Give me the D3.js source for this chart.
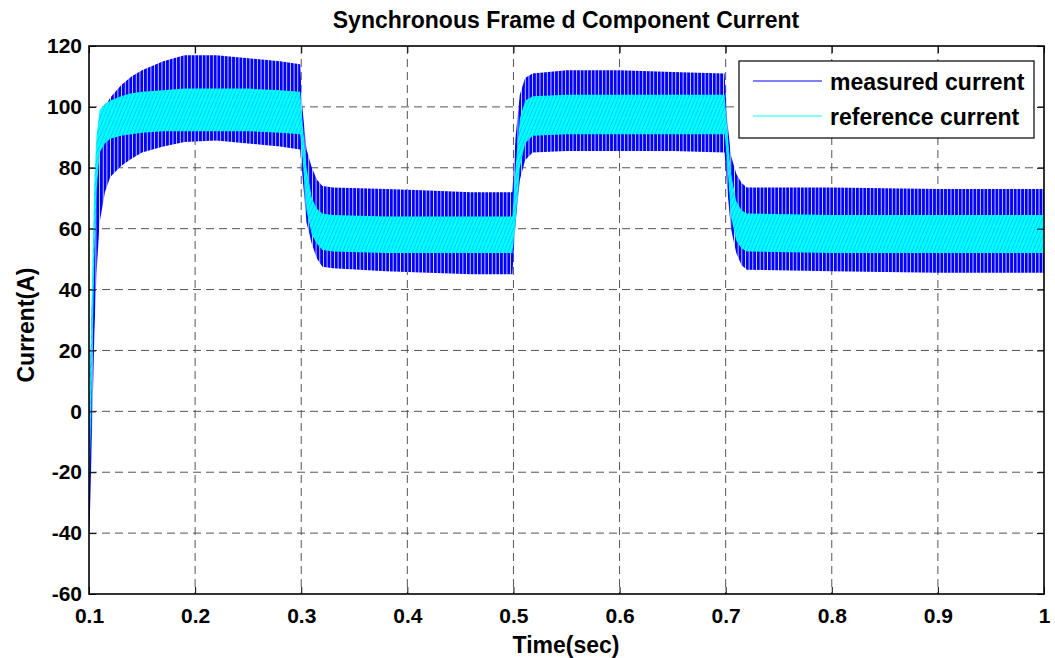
<html>
<head>
<meta charset="utf-8">
<script src="https://d3js.org/d3.v7.min.js"></script>
<style>
body { margin: 0; background: #fff; }
text { font-family: "Liberation Sans", Arial, sans-serif; font-weight: bold; fill: #000; }
</style>
</head>
<body>
<svg id="chart" width="1055" height="658"></svg>
<script>
// envelope of the two traces (time in sec, current in A)
var time = [0.100, 0.101, 0.103, 0.105, 0.107, 0.110, 0.115, 0.120, 0.130, 0.140, 0.150, 0.170, 0.190, 0.220, 0.250, 0.280, 0.299,
            0.301, 0.305, 0.310, 0.315, 0.320, 0.330, 0.380, 0.420, 0.460, 0.499,
            0.502, 0.506, 0.511, 0.518, 0.550, 0.600, 0.650, 0.699,
            0.701, 0.705, 0.710, 0.715, 0.720, 0.800, 0.900, 1.000];
var measuredHi = [-20, 10, 40, 62, 78, 92, 100, 103, 107, 110, 112, 115, 117, 117, 116, 115, 114,
                  100, 86, 80, 76, 74, 73.5, 73, 72.5, 72, 72,
                  90, 104, 109.5, 111, 112, 112, 111.5, 111,
                  97, 84, 78, 75, 73.5, 73.5, 73, 73];
var measuredLo = [-42, -32, -5, 25, 45, 62, 72, 77, 80.5, 83, 85, 87, 88.5, 89, 88, 87, 86,
                  78, 62, 55, 50, 47.5, 47, 46, 45.5, 45, 45,
                  62, 76, 82.5, 85, 85.5, 85.5, 85.5, 85,
                  75, 60, 52, 48, 46.5, 46, 45.5, 45.5];
var referenceHi = [-10, 10, 45, 75, 90, 99, 101, 102, 103.5, 104.5, 105, 105.5, 106, 106, 106, 105.5, 105,
                   96, 80, 70, 66.5, 65, 64.5, 64, 64, 64, 64,
                   80, 96, 102, 103.5, 104, 104, 104, 104,
                   95, 78, 69, 66, 65, 64.5, 64.5, 64.5];
var referenceLo = [-27, -15, 15, 50, 72, 85, 88, 89.5, 90.5, 91, 91.5, 92, 92, 92, 92, 91.5, 91,
                   84, 66, 58, 55, 53, 52.5, 52, 52, 52, 52,
                   62, 80, 88, 90.5, 91, 91, 91, 91,
                   84, 64, 56, 53.5, 52.5, 52, 52, 52];

var xTicks = [0.1, 0.2, 0.3, 0.4, 0.5, 0.6, 0.7, 0.8, 0.9, 1];
var yTicks = [-60, -40, -20, 0, 20, 40, 60, 80, 100, 120];
var legendNames = ["measured current", "reference current"];

var margin = {top: 46, right: 11, bottom: 64, left: 89},
    width = 1055 - margin.left - margin.right,
    height = 658 - margin.top - margin.bottom;

var svg = d3.select("#chart");
var defs = svg.append("defs");

// dense ripple look: blue spikes with thin white gaps
var hatch = defs.append("pattern").attr("id", "measHatch")
  .attr("patternUnits", "userSpaceOnUse").attr("width", 3.67).attr("height", 10);
hatch.append("rect").attr("width", 3.67).attr("height", 10).attr("fill", "#fff");
hatch.append("rect").attr("width", 2.9).attr("height", 10).attr("fill", "#0000ff");

var refHatch = defs.append("pattern").attr("id", "refHatch")
  .attr("patternUnits", "userSpaceOnUse").attr("width", 3.67).attr("height", 9);
refHatch.append("rect").attr("width", 3.67).attr("height", 9).attr("fill", "#00ffff");
refHatch.append("path").attr("d", "M0,9L3.67,0").attr("stroke", "#0000ff")
  .attr("stroke-width", 0.6).attr("stroke-opacity", 0.4);

defs.append("clipPath").attr("id", "plotClip")
  .append("rect").attr("width", width).attr("height", height);

var g = svg.append("g").attr("transform", "translate(" + margin.left + "," + margin.top + ")");

var x = d3.scaleLinear().domain([0.1, 1]).range([0, width]);
var y = d3.scaleLinear().domain([-60, 120]).range([height, 0]);

// grid
g.append("g").selectAll("line").data(xTicks.slice(1, -1)).enter().append("line")
  .attr("x1", function(d) { return x(d); }).attr("x2", function(d) { return x(d); })
  .attr("y1", 0).attr("y2", height)
  .attr("stroke", "#555").attr("stroke-dasharray", "8,5");
g.append("g").selectAll("line").data(yTicks.slice(1, -1)).enter().append("line")
  .attr("y1", function(d) { return y(d); }).attr("y2", function(d) { return y(d); })
  .attr("x1", 0).attr("x2", width)
  .attr("stroke", "#555").attr("stroke-dasharray", "8,5");

// traces as filled envelopes
var idx = d3.range(time.length);
var plot = g.append("g").attr("clip-path", "url(#plotClip)");
plot.append("path").datum(idx)
  .attr("fill", "url(#measHatch)")
  .attr("d", d3.area()
    .x(function(i) { return x(time[i]); })
    .y0(function(i) { return y(measuredLo[i]); })
    .y1(function(i) { return y(measuredHi[i]); }));
plot.append("path").datum(idx)
  .attr("fill", "url(#refHatch)")
  .attr("d", d3.area()
    .x(function(i) { return x(time[i]); })
    .y0(function(i) { return y(referenceLo[i]); })
    .y1(function(i) { return y(referenceHi[i]); }));

// axes, matlab style ticks pointing inward
var fs = "21px";
var plain = function(d) { return String(d); };
g.append("g").attr("transform", "translate(0," + height + ")")
  .call(d3.axisBottom(x).tickValues(xTicks).tickFormat(plain).tickSize(-7).tickPadding(14))
  .call(function(s) { s.select(".domain").remove(); })
  .selectAll("text").style("font-size", fs);
g.append("g")
  .call(d3.axisLeft(y).tickValues(yTicks).tickFormat(plain).tickSize(-7).tickPadding(7))
  .call(function(s) { s.select(".domain").remove(); })
  .selectAll("text").style("font-size", fs);
g.append("g").call(d3.axisTop(x).tickValues(xTicks).tickSize(-7).tickFormat(""))
  .call(function(s) { s.select(".domain").remove(); });
g.append("g").attr("transform", "translate(" + width + ",0)")
  .call(d3.axisRight(y).tickValues(yTicks).tickSize(-7).tickFormat(""))
  .call(function(s) { s.select(".domain").remove(); });

g.append("rect").attr("width", width).attr("height", height)
  .attr("fill", "none").attr("stroke", "#000").attr("stroke-width", 1.6);

// title and labels
svg.append("text").attr("x", 566).attr("y", 28).attr("text-anchor", "middle")
  .style("font-size", "23px").text("Synchronous Frame d Component Current");
svg.append("text").attr("x", 566).attr("y", 653).attr("text-anchor", "middle")
  .style("font-size", "23px").text("Time(sec)");
svg.append("text").attr("transform", "translate(34,325) rotate(-90)").attr("text-anchor", "middle")
  .style("font-size", "23px").text("Current(A)");

// legend
var legend = svg.append("g").attr("transform", "translate(739,61)");
legend.append("rect").attr("width", 295).attr("height", 77)
  .attr("fill", "#fff").attr("stroke", "#000").attr("stroke-width", 1.2);
var color = d3.scaleOrdinal().domain(legendNames).range(["#0000ff", "#00ffff"]);
var items = legend.selectAll(".item").data(legendNames).enter().append("g")
  .attr("transform", function(d, i) { return "translate(0," + (20 + i * 35) + ")"; });
items.append("line").attr("x1", 14).attr("x2", 83)
  .attr("stroke", function(d) { return color(d); }).attr("stroke-width", 1.2);
items.append("text").attr("x", 91).attr("y", 9)
  .style("font-size", "23px").text(function(d) { return d; });
</script>
</body>
</html>
